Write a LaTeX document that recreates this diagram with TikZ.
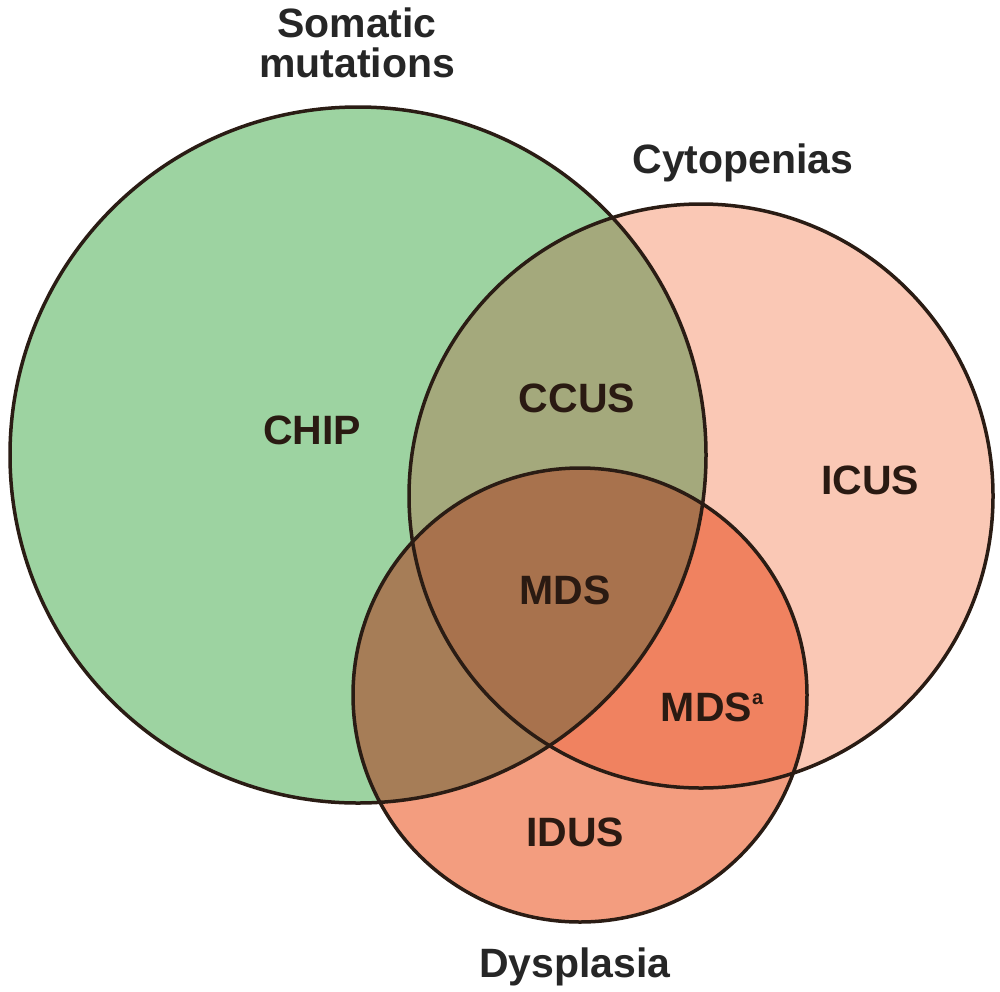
\documentclass[tikz,border=0pt]{standalone}
\usepackage{fontspec}
\setmainfont{Liberation Sans}
\definecolor{cgreen}{HTML}{9DD3A1}
\definecolor{cpink}{HTML}{FAC8B5}
\definecolor{cdys}{HTML}{F39D7F}
\definecolor{cccus}{HTML}{A4A97C}
\definecolor{cmdsa}{HTML}{F08260}
\definecolor{cgd}{HTML}{A67D57}
\definecolor{cmds}{HTML}{A8724D}
\definecolor{cline}{HTML}{2A1C14}
\definecolor{ctext}{HTML}{2A1A12}
\tikzset{
  outline/.style={draw=cline, line width=3.5pt},
  region/.style={font=\fontsize{41}{41}\selectfont\bfseries, text=ctext, inner sep=0pt},
  title/.style={font=\fontsize{41}{40}\selectfont\bfseries, text=black!85, inner sep=0pt, align=center}
}
\begin{document}
\begin{tikzpicture}[x=1pt,y=-1pt]
\useasboundingbox (0,0) rectangle (1000,991);
\def\GC{(358,455) circle (348)}
\def\PC{(701,496) circle (292)}
\def\DC{(580,695) circle (227)}
% base fills
\fill[cgreen] \GC;
\fill[cpink] \PC;
\fill[cdys] \DC;
\begin{scope}\clip \GC; \fill[cccus] \PC; \end{scope}
\begin{scope}\clip \PC; \fill[cmdsa] \DC; \end{scope}
\begin{scope}\clip \GC; \fill[cgd] \DC; \end{scope}
\begin{scope}\clip \GC; \clip \PC; \fill[cmds] \DC; \end{scope}
% outlines
\draw[outline] \GC;
\draw[outline] \PC;
\draw[outline] \DC;
% labels
\node[title] (som) at (357,43) {Somatic\\mutations};
\node[title] (cyt) at (743,163) {Cytopenias};
\node[title] (dys) at (575,967) {Dysplasia};
\node[region] (chip) at (312,430) {CHIP};
\node[region] (ccus) at (577,398) {CCUS};
\node[region] (icus) at (870,480) {ICUS};
\node[region] (mds) at (565,590) {MDS};
\node[region] (mdsa) at (712,707) {MDS\raisebox{0.4em}{\fontsize{20}{20}\selectfont a}};
\node[region] (idus) at (575,832) {IDUS};
\end{tikzpicture}
\end{document}
